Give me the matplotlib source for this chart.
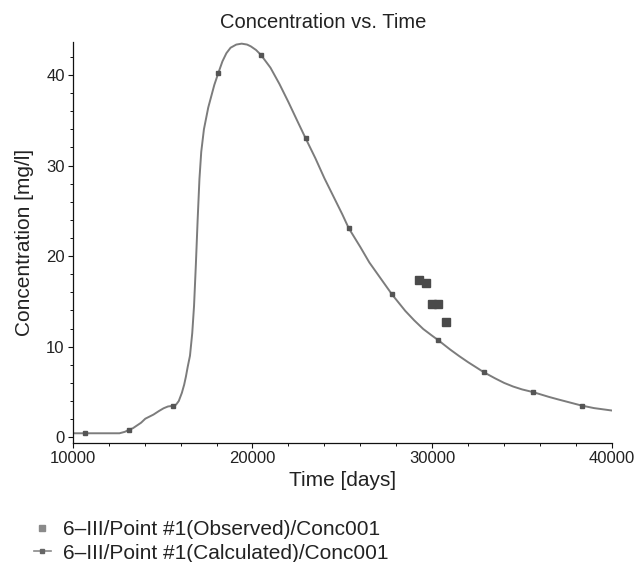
import matplotlib
matplotlib.use("Agg")
import matplotlib.pyplot as plt
from matplotlib.lines import Line2D
from matplotlib.ticker import MultipleLocator

plt.rcParams['font.family'] = ['Liberation Sans', 'DejaVu Sans']

# Calculated curve
curve_time = [10000, 12600, 12900, 13115, 13350, 13800, 14040, 14490, 14800, 15056,
              15300, 15576, 15750, 15900, 16072, 16200, 16298, 16400, 16524, 16650,
              16750, 16850, 16950, 17050, 17150, 17300, 17540, 17878, 18099, 18330,
              18550, 18781, 19100, 19400, 19700, 19910, 20200, 20475, 21000, 21500,
              22000, 22500, 22957, 23500, 24000, 24500, 25000, 25350, 26000, 26500,
              27000, 27765, 28500, 29000, 29500, 30000, 30293, 31000, 31500, 32000,
              32500, 32867, 33500, 34000, 34500, 35000, 35620, 36500, 37000, 37500,
              38307, 39000, 40000]
curve_conc = [0.44, 0.44, 0.6, 0.81, 1.0, 1.6, 2.05, 2.5, 2.9, 3.2,
              3.4, 3.47, 3.6, 4.0, 4.9, 5.8, 6.7, 7.8, 9.0, 11.5,
              14.5, 19.0, 24.0, 28.5, 31.5, 34.0, 36.4, 38.9, 40.2, 41.5,
              42.4, 43.0, 43.35, 43.45, 43.35, 43.15, 42.75, 42.2, 40.8, 39.0,
              37.0, 34.9, 33.0, 30.8, 28.6, 26.6, 24.6, 23.1, 21.0, 19.3,
              17.9, 15.76, 13.95, 12.9, 11.95, 11.2, 10.78, 9.68, 8.96, 8.28,
              7.65, 7.18, 6.5, 6.0, 5.6, 5.28, 4.98, 4.45, 4.18, 3.92,
              3.5, 3.22, 2.95]

# Calculated curve markers
calc_time = [10700, 13115, 15576, 18080, 20475, 22957, 25350, 27765, 30293, 32867, 35620, 38307]
calc_conc = [0.44, 0.81, 3.47, 40.2, 42.2, 33.0, 23.1, 15.76, 10.78, 7.16, 4.98, 3.5]

# Observed points
obs_time = [29278, 29639, 30000, 30339, 30767]
obs_conc = [17.34, 17.05, 14.76, 14.69, 12.77]

title = "Concentration vs. Time"
xlabel = "Time [days]"
ylabel = "Concentration [mg/l]"
label_obs = "6\u2013III/Point #1(Observed)/Conc001"
label_calc = "6\u2013III/Point #1(Calculated)/Conc001"

W, H = 635, 562
fig = plt.figure(figsize=(W / 100, H / 100), dpi=100)
ax = fig.add_axes([72.7 / W, 1 - 442.7 / H, (612 - 72.7) / W, (442.7 - 42.3) / H])

line_col = '#7c7c7c'
mark_col = '#4a4a4a'
ax.plot(curve_time, curve_conc, color=line_col, lw=1.4, zorder=2,
        solid_joinstyle='round', solid_capstyle='round')
ax.plot(calc_time, calc_conc, ls='none', marker='s', ms=3.2, color='#555555', zorder=3)
ax.plot(obs_time, obs_conc, ls='none', marker='s', ms=5.6, color=mark_col, zorder=4)

ax.set_xlim(10000, 40000)
ax.set_ylim(-0.6, 43.6)
ax.xaxis.set_major_locator(MultipleLocator(10000))
ax.xaxis.set_minor_locator(MultipleLocator(2000))
ax.yaxis.set_major_locator(MultipleLocator(10))
ax.yaxis.set_minor_locator(MultipleLocator(2))
for s in ['top', 'right']:
    ax.spines[s].set_visible(False)
for s in ['left', 'bottom']:
    ax.spines[s].set_linewidth(0.9)
    ax.spines[s].set_color('#111111')
ax.tick_params(which='major', length=3.8, width=0.8, labelsize=12, pad=2, colors='#111111',
               labelcolor='#222222')
ax.tick_params(which='minor', length=2.0, width=0.7, colors='#111111')

ax.set_xlabel(xlabel, fontsize=15, color='#222222', labelpad=4)
ax.set_ylabel(ylabel, fontsize=15, color='#222222', labelpad=9)
fig.text(323 / W, 1 - 22 / H, title, fontsize=14.5, ha='center', va='center', color='#222222')

h_obs = Line2D([], [], ls='none', marker='s', ms=4, color='#8a8a8a')
h_calc = Line2D([], [], ls='-', lw=1.2, color='#8a8a8a', marker='s', ms=3.5,
                markerfacecolor='#666666', markeredgecolor='#666666')
fig.legend([h_obs, h_calc], [label_obs, label_calc], loc='upper left',
           bbox_to_anchor=(34 / W, 1 - 520 / H), frameon=False, fontsize=15,
           handlelength=0.8, handletextpad=0.6, labelspacing=0.22, borderpad=0,
           borderaxespad=0, labelcolor='#222222')

fig.savefig("out.png", dpi=100)
